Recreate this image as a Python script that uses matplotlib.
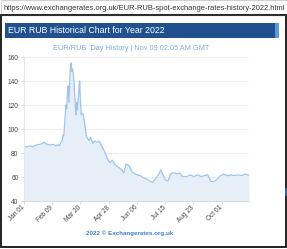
import matplotlib
matplotlib.use("Agg")
import matplotlib.pyplot as plt
import matplotlib.dates as mdates
from matplotlib.patches import Rectangle
from matplotlib.lines import Line2D
import pandas as pd

plt.rcParams["font.family"] = ["Liberation Sans", "DejaVu Sans"]

# EUR/RUB 2022, values
dates = [
    "2022-01-01", "2022-01-05", "2022-01-09", "2022-01-13", "2022-01-17", "2022-01-21",
    "2022-01-25", "2022-01-28", "2022-02-01", "2022-02-04", "2022-02-08", "2022-02-11",
    "2022-02-14", "2022-02-17", "2022-02-19", "2022-02-21", "2022-02-23", "2022-02-24",
    "2022-02-25", "2022-02-28", "2022-03-01", "2022-03-02", "2022-03-03", "2022-03-04",
    "2022-03-06", "2022-03-07", "2022-03-08", "2022-03-09", "2022-03-10", "2022-03-11",
    "2022-03-13", "2022-03-14", "2022-03-15", "2022-03-16", "2022-03-17", "2022-03-18",
    "2022-03-19", "2022-03-20", "2022-03-21", "2022-03-22", "2022-03-24", "2022-03-25",
    "2022-03-27", "2022-03-28", "2022-03-30", "2022-04-01", "2022-04-03", "2022-04-06",
    "2022-04-09", "2022-04-12", "2022-04-15", "2022-04-18", "2022-04-21", "2022-04-24",
    "2022-04-27", "2022-04-30", "2022-05-03", "2022-05-06", "2022-05-09", "2022-05-12",
    "2022-05-16", "2022-05-19", "2022-05-22", "2022-05-26", "2022-05-30", "2022-06-03",
    "2022-06-07", "2022-06-11", "2022-06-16", "2022-06-20", "2022-06-24", "2022-06-28",
    "2022-07-01", "2022-07-04", "2022-07-07", "2022-07-09", "2022-07-12", "2022-07-15",
    "2022-07-19", "2022-07-23", "2022-07-27", "2022-07-31", "2022-08-04", "2022-08-08",
    "2022-08-14", "2022-08-19", "2022-08-24", "2022-08-29", "2022-09-03", "2022-09-08",
    "2022-09-12", "2022-09-16", "2022-09-20", "2022-09-24", "2022-09-28", "2022-10-04",
    "2022-10-09", "2022-10-14", "2022-10-19", "2022-10-24", "2022-10-29", "2022-11-03",
    "2022-11-08",
]
rates = [
    85.5, 85.0, 86.0, 85.2, 86.5, 87.0,
    87.5, 88.8, 87.5, 87.0, 86.8, 87.2,
    86.0, 87.0, 86.0, 89.0, 91.0, 95.0,
    94.0, 120.0, 117.0, 130.0, 136.0, 122.0,
    150.0, 155.0, 148.0, 150.0, 146.0, 140.0,
    118.0, 112.0, 122.0, 116.0, 125.0, 134.0,
    140.0, 124.0, 112.0, 113.0, 112.0, 108.0,
    100.0, 94.5, 92.0, 90.5, 93.0, 88.0,
    90.0, 89.0, 90.0, 86.0, 83.0, 79.0,
    74.5, 72.0, 74.0, 71.0, 69.0, 68.0,
    66.0, 63.5, 70.8, 69.6, 64.6, 62.5,
    61.8, 61.0, 59.0, 58.2, 56.5, 55.4,
    58.0, 60.4, 63.0, 66.0, 62.0, 58.0,
    56.5, 62.7, 63.5, 62.7, 63.3, 60.4,
    60.4, 61.8, 60.4, 61.8, 60.4, 61.2,
    61.8, 56.5, 56.2, 57.5, 60.4, 62.4,
    61.0, 61.8, 61.2, 61.8, 61.2, 62.4,
    61.5,
]
tick_dates = ["2022-01-01", "2022-02-09", "2022-03-20", "2022-04-28",
              "2022-06-06", "2022-07-15", "2022-08-23", "2022-10-01"]
y_ticks = [40, 60, 80, 100, 120, 140, 160]

x = pd.to_datetime(dates)
xt = pd.to_datetime(tick_dates)

W, H = 287, 249
fig = plt.figure(figsize=(W / 100, H / 100), dpi=100)
fig.patch.set_facecolor("white")

def px(x0, y0, w, h, **kw):
    # rectangle in pixel coords (top-left origin)
    r = Rectangle((x0 / W, 1 - (y0 + h) / H), w / W, h / H,
                  transform=fig.transFigure, **kw)
    fig.add_artist(r)

# browser-ish frame
px(0.5, 0.5, 286, 15, fill=False, ec="#c8c8c8", lw=0.6)
fig.add_artist(Line2D([0, 1], [1 - 15.5 / H] * 2, transform=fig.transFigure, color="#333333", lw=0.8))
px(1.2, 15.5, 284.3, 231.3, fill=False, ec="#111111", lw=1.3)
fig.add_artist(Line2D([285.5 / W] * 2, [1 - 189 / H, 1 - 195 / H], transform=fig.transFigure,
                      color="#3a6fc0", lw=1.2))
fig.text(4 / W, 1 - 8.5 / H, "https://www.exchangerates.org.uk/EUR-RUB-spot-exchange-rates-history-2022.html",
         fontsize=5.4, color="#333333", va="center", ha="left")

# title bar
px(5, 23, 274, 15, color="#21508f", lw=0)
px(275, 23, 4, 15, color="#5b9bd5", lw=0)
fig.text(7.5 / W, 1 - 30.5 / H, "EUR RUB Historical Chart for Year 2022",
         fontsize=6.3, color="white", va="center", ha="left")

fig.text(131 / W, 1 - 48.5 / H, "EUR/RUB  Day History | Nov 09 02:05 AM GMT",
         fontsize=5.3, color="#7aaee0", va="center", ha="center")
fig.text(130 / W, 1 - 233 / H, "2022 \u00a9 Exchangerates.org.uk",
         fontsize=4.5, color="#3d7fd0", va="center", ha="center", fontweight="bold")

# chart
ax = fig.add_axes([24 / W, 1 - 201 / H, 225 / W, 144 / H])
ax.plot(x, rates, color="#9fc5ea", lw=0.9)
ax.fill_between(x, rates, 40, color="#e6eff8", lw=0)
ax.set_xlim(x[0], x[-1])
ax.set_ylim(40, 160)
ax.set_yticks(y_ticks)
ax.set_xticks(xt)
ax.xaxis.set_major_formatter(mdates.DateFormatter("%b %d"))
ax.grid(axis="y", color="#ececec", lw=0.7)
ax.set_axisbelow(True)
for s in ["top", "right"]:
    ax.spines[s].set_visible(False)
ax.spines["left"].set_color("#e4e4e4")
ax.spines["bottom"].set_color("#d8d8d8")
ax.spines["left"].set_linewidth(0.6)
ax.spines["bottom"].set_linewidth(0.6)
ax.tick_params(axis="y", labelsize=4.7, colors="#444444", length=2.5, width=0.5, pad=1.5)
ax.tick_params(axis="y", color="#cccccc")
ax.tick_params(axis="x", labelsize=4.7, colors="#444444", length=2.5, width=0.5, pad=1.5)
ax.tick_params(axis="x", color="#cccccc")
for lab in ax.get_xticklabels():
    lab.set_rotation(45)
    lab.set_ha("right")
    lab.set_va("center")
    lab.set_rotation_mode("anchor")

fig.savefig("out.png", dpi=100)
